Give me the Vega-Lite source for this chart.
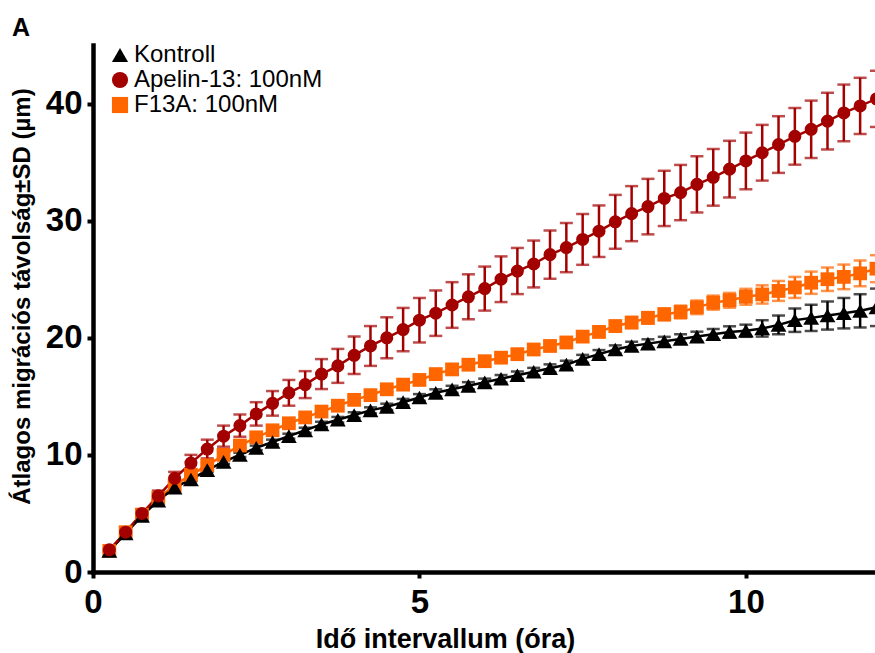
{
  "$schema": "https://vega.github.io/schema/vega-lite/v6.json",
  "width": 781.5,
  "height": 527,
  "autosize": {"type": "none"},
  "padding": {"left": 93, "top": 45, "right": 0, "bottom": 81},
  "background": "white",
  "title": {
    "text": "A",
    "anchor": "start",
    "frame": "group",
    "dx": -81,
    "dy": 28,
    "offset": 10,
    "baseline": "alphabetic",
    "font": "Liberation Sans",
    "fontSize": 25,
    "fontWeight": "bold",
    "color": "black"
  },
  "config": {
    "view": {"stroke": null},
    "axis": {
      "grid": false,
      "domainColor": "black",
      "domainWidth": 4.5,
      "domainCap": "square",
      "tickColor": "black",
      "tickWidth": 4,
      "tickSize": 6,
      "labelFont": "Liberation Sans",
      "labelFontWeight": "bold",
      "labelFontSize": 33,
      "labelColor": "black",
      "labelOverlap": false,
      "labelFlush": false,
      "titleFont": "Liberation Sans",
      "titleFontWeight": "bold",
      "titleColor": "black"
    },
    "legend": {
      "orient": "none",
      "legendX": 15,
      "legendY": -2,
      "padding": 0,
      "labelFont": "Liberation Sans",
      "labelFontSize": 24,
      "labelColor": "black",
      "labelLimit": 400,
      "labelOffset": 2,
      "symbolSize": 260,
      "symbolOpacity": 1,
      "symbolStrokeWidth": 0,
      "rowPadding": 1
    }
  },
  "datasets": {
    "series": [
      {"t": 0.25, "g": "F13A: 100nM", "m": 1.8, "sd": 0.1},
      {"t": 0.5, "g": "F13A: 100nM", "m": 3.4, "sd": 0.11},
      {"t": 0.75, "g": "F13A: 100nM", "m": 4.9, "sd": 0.12},
      {"t": 1.0, "g": "F13A: 100nM", "m": 6.3, "sd": 0.13},
      {"t": 1.25, "g": "F13A: 100nM", "m": 7.4, "sd": 0.14},
      {"t": 1.5, "g": "F13A: 100nM", "m": 8.3, "sd": 0.15},
      {"t": 1.75, "g": "F13A: 100nM", "m": 9.1, "sd": 0.17},
      {"t": 2.0, "g": "F13A: 100nM", "m": 10.0, "sd": 0.18},
      {"t": 2.25, "g": "F13A: 100nM", "m": 10.8, "sd": 0.19},
      {"t": 2.5, "g": "F13A: 100nM", "m": 11.5, "sd": 0.2},
      {"t": 2.75, "g": "F13A: 100nM", "m": 12.1, "sd": 0.21},
      {"t": 3.0, "g": "F13A: 100nM", "m": 12.7, "sd": 0.22},
      {"t": 3.25, "g": "F13A: 100nM", "m": 13.2, "sd": 0.23},
      {"t": 3.5, "g": "F13A: 100nM", "m": 13.7, "sd": 0.24},
      {"t": 3.75, "g": "F13A: 100nM", "m": 14.2, "sd": 0.25},
      {"t": 4.0, "g": "F13A: 100nM", "m": 14.7, "sd": 0.26},
      {"t": 4.25, "g": "F13A: 100nM", "m": 15.1, "sd": 0.27},
      {"t": 4.5, "g": "F13A: 100nM", "m": 15.6, "sd": 0.28},
      {"t": 4.75, "g": "F13A: 100nM", "m": 16.0, "sd": 0.29},
      {"t": 5.0, "g": "F13A: 100nM", "m": 16.4, "sd": 0.3},
      {"t": 5.25, "g": "F13A: 100nM", "m": 16.9, "sd": 0.31},
      {"t": 5.5, "g": "F13A: 100nM", "m": 17.3, "sd": 0.32},
      {"t": 5.75, "g": "F13A: 100nM", "m": 17.7, "sd": 0.33},
      {"t": 6.0, "g": "F13A: 100nM", "m": 18.0, "sd": 0.34},
      {"t": 6.25, "g": "F13A: 100nM", "m": 18.3, "sd": 0.35},
      {"t": 6.5, "g": "F13A: 100nM", "m": 18.6, "sd": 0.36},
      {"t": 6.75, "g": "F13A: 100nM", "m": 19.0, "sd": 0.37},
      {"t": 7.0, "g": "F13A: 100nM", "m": 19.3, "sd": 0.38},
      {"t": 7.25, "g": "F13A: 100nM", "m": 19.6, "sd": 0.4},
      {"t": 7.5, "g": "F13A: 100nM", "m": 20.1, "sd": 0.41},
      {"t": 7.75, "g": "F13A: 100nM", "m": 20.5, "sd": 0.42},
      {"t": 8.0, "g": "F13A: 100nM", "m": 21.0, "sd": 0.44},
      {"t": 8.25, "g": "F13A: 100nM", "m": 21.3, "sd": 0.47},
      {"t": 8.5, "g": "F13A: 100nM", "m": 21.7, "sd": 0.5},
      {"t": 8.75, "g": "F13A: 100nM", "m": 22.0, "sd": 0.52},
      {"t": 9.0, "g": "F13A: 100nM", "m": 22.2, "sd": 0.55},
      {"t": 9.25, "g": "F13A: 100nM", "m": 22.6, "sd": 0.58},
      {"t": 9.5, "g": "F13A: 100nM", "m": 23.0, "sd": 0.6},
      {"t": 9.75, "g": "F13A: 100nM", "m": 23.2, "sd": 0.63},
      {"t": 10.0, "g": "F13A: 100nM", "m": 23.5, "sd": 0.68},
      {"t": 10.25, "g": "F13A: 100nM", "m": 23.7, "sd": 0.78},
      {"t": 10.5, "g": "F13A: 100nM", "m": 24.0, "sd": 0.85},
      {"t": 10.75, "g": "F13A: 100nM", "m": 24.3, "sd": 0.9},
      {"t": 11.0, "g": "F13A: 100nM", "m": 24.7, "sd": 0.95},
      {"t": 11.25, "g": "F13A: 100nM", "m": 25.0, "sd": 1.0},
      {"t": 11.5, "g": "F13A: 100nM", "m": 25.2, "sd": 1.05},
      {"t": 11.75, "g": "F13A: 100nM", "m": 25.5, "sd": 1.1},
      {"t": 12.0, "g": "F13A: 100nM", "m": 25.9, "sd": 1.15},

      {"t": 0.25, "g": "Kontroll", "m": 1.8, "sd": 0.1},
      {"t": 0.5, "g": "Kontroll", "m": 3.3, "sd": 0.11},
      {"t": 0.75, "g": "Kontroll", "m": 4.8, "sd": 0.12},
      {"t": 1.0, "g": "Kontroll", "m": 6.1, "sd": 0.13},
      {"t": 1.25, "g": "Kontroll", "m": 7.2, "sd": 0.14},
      {"t": 1.5, "g": "Kontroll", "m": 7.9, "sd": 0.15},
      {"t": 1.75, "g": "Kontroll", "m": 8.7, "sd": 0.16},
      {"t": 2.0, "g": "Kontroll", "m": 9.4, "sd": 0.17},
      {"t": 2.25, "g": "Kontroll", "m": 10.0, "sd": 0.18},
      {"t": 2.5, "g": "Kontroll", "m": 10.6, "sd": 0.19},
      {"t": 2.75, "g": "Kontroll", "m": 11.1, "sd": 0.2},
      {"t": 3.0, "g": "Kontroll", "m": 11.6, "sd": 0.21},
      {"t": 3.25, "g": "Kontroll", "m": 12.1, "sd": 0.22},
      {"t": 3.5, "g": "Kontroll", "m": 12.6, "sd": 0.23},
      {"t": 3.75, "g": "Kontroll", "m": 13.0, "sd": 0.24},
      {"t": 4.0, "g": "Kontroll", "m": 13.4, "sd": 0.25},
      {"t": 4.25, "g": "Kontroll", "m": 13.8, "sd": 0.26},
      {"t": 4.5, "g": "Kontroll", "m": 14.1, "sd": 0.27},
      {"t": 4.75, "g": "Kontroll", "m": 14.5, "sd": 0.28},
      {"t": 5.0, "g": "Kontroll", "m": 14.9, "sd": 0.29},
      {"t": 5.25, "g": "Kontroll", "m": 15.3, "sd": 0.3},
      {"t": 5.5, "g": "Kontroll", "m": 15.6, "sd": 0.3},
      {"t": 5.75, "g": "Kontroll", "m": 15.9, "sd": 0.31},
      {"t": 6.0, "g": "Kontroll", "m": 16.2, "sd": 0.31},
      {"t": 6.25, "g": "Kontroll", "m": 16.5, "sd": 0.32},
      {"t": 6.5, "g": "Kontroll", "m": 16.8, "sd": 0.32},
      {"t": 6.75, "g": "Kontroll", "m": 17.1, "sd": 0.33},
      {"t": 7.0, "g": "Kontroll", "m": 17.4, "sd": 0.33},
      {"t": 7.25, "g": "Kontroll", "m": 17.7, "sd": 0.34},
      {"t": 7.5, "g": "Kontroll", "m": 18.2, "sd": 0.34},
      {"t": 7.75, "g": "Kontroll", "m": 18.6, "sd": 0.35},
      {"t": 8.0, "g": "Kontroll", "m": 19.0, "sd": 0.35},
      {"t": 8.25, "g": "Kontroll", "m": 19.3, "sd": 0.36},
      {"t": 8.5, "g": "Kontroll", "m": 19.5, "sd": 0.37},
      {"t": 8.75, "g": "Kontroll", "m": 19.7, "sd": 0.38},
      {"t": 9.0, "g": "Kontroll", "m": 19.9, "sd": 0.4},
      {"t": 9.25, "g": "Kontroll", "m": 20.1, "sd": 0.42},
      {"t": 9.5, "g": "Kontroll", "m": 20.3, "sd": 0.45},
      {"t": 9.75, "g": "Kontroll", "m": 20.5, "sd": 0.48},
      {"t": 10.0, "g": "Kontroll", "m": 20.6, "sd": 0.52},
      {"t": 10.25, "g": "Kontroll", "m": 20.8, "sd": 0.7},
      {"t": 10.5, "g": "Kontroll", "m": 21.1, "sd": 0.8},
      {"t": 10.75, "g": "Kontroll", "m": 21.5, "sd": 1.0},
      {"t": 11.0, "g": "Kontroll", "m": 21.7, "sd": 1.12},
      {"t": 11.25, "g": "Kontroll", "m": 21.9, "sd": 1.2},
      {"t": 11.5, "g": "Kontroll", "m": 22.1, "sd": 1.3},
      {"t": 11.75, "g": "Kontroll", "m": 22.3, "sd": 1.42},
      {"t": 12.0, "g": "Kontroll", "m": 22.6, "sd": 1.6},

      {"t": 0.25, "g": "Apelin-13: 100nM", "m": 1.9, "sd": 0.15},
      {"t": 0.5, "g": "Apelin-13: 100nM", "m": 3.4, "sd": 0.25},
      {"t": 0.75, "g": "Apelin-13: 100nM", "m": 5.0, "sd": 0.35},
      {"t": 1.0, "g": "Apelin-13: 100nM", "m": 6.5, "sd": 0.45},
      {"t": 1.25, "g": "Apelin-13: 100nM", "m": 8.0, "sd": 0.55},
      {"t": 1.5, "g": "Apelin-13: 100nM", "m": 9.3, "sd": 0.7},
      {"t": 1.75, "g": "Apelin-13: 100nM", "m": 10.5, "sd": 0.8},
      {"t": 2.0, "g": "Apelin-13: 100nM", "m": 11.6, "sd": 0.9},
      {"t": 2.25, "g": "Apelin-13: 100nM", "m": 12.5, "sd": 0.95},
      {"t": 2.5, "g": "Apelin-13: 100nM", "m": 13.5, "sd": 1.0},
      {"t": 2.75, "g": "Apelin-13: 100nM", "m": 14.4, "sd": 1.05},
      {"t": 3.0, "g": "Apelin-13: 100nM", "m": 15.3, "sd": 1.1},
      {"t": 3.25, "g": "Apelin-13: 100nM", "m": 16.0, "sd": 1.15},
      {"t": 3.5, "g": "Apelin-13: 100nM", "m": 16.9, "sd": 1.28},
      {"t": 3.75, "g": "Apelin-13: 100nM", "m": 17.6, "sd": 1.45},
      {"t": 4.0, "g": "Apelin-13: 100nM", "m": 18.5, "sd": 1.6},
      {"t": 4.25, "g": "Apelin-13: 100nM", "m": 19.3, "sd": 1.7},
      {"t": 4.5, "g": "Apelin-13: 100nM", "m": 20.0, "sd": 1.75},
      {"t": 4.75, "g": "Apelin-13: 100nM", "m": 20.7, "sd": 1.85},
      {"t": 5.0, "g": "Apelin-13: 100nM", "m": 21.5, "sd": 1.9},
      {"t": 5.25, "g": "Apelin-13: 100nM", "m": 22.1, "sd": 1.94},
      {"t": 5.5, "g": "Apelin-13: 100nM", "m": 22.8, "sd": 1.95},
      {"t": 5.75, "g": "Apelin-13: 100nM", "m": 23.5, "sd": 1.92},
      {"t": 6.0, "g": "Apelin-13: 100nM", "m": 24.2, "sd": 1.88},
      {"t": 6.25, "g": "Apelin-13: 100nM", "m": 25.0, "sd": 1.95},
      {"t": 6.5, "g": "Apelin-13: 100nM", "m": 25.7, "sd": 1.97},
      {"t": 6.75, "g": "Apelin-13: 100nM", "m": 26.3, "sd": 2.0},
      {"t": 7.0, "g": "Apelin-13: 100nM", "m": 27.1, "sd": 2.06},
      {"t": 7.25, "g": "Apelin-13: 100nM", "m": 27.7, "sd": 2.1},
      {"t": 7.5, "g": "Apelin-13: 100nM", "m": 28.4, "sd": 2.17},
      {"t": 7.75, "g": "Apelin-13: 100nM", "m": 29.1, "sd": 2.2},
      {"t": 8.0, "g": "Apelin-13: 100nM", "m": 29.9, "sd": 2.3},
      {"t": 8.25, "g": "Apelin-13: 100nM", "m": 30.6, "sd": 2.35},
      {"t": 8.5, "g": "Apelin-13: 100nM", "m": 31.2, "sd": 2.37},
      {"t": 8.75, "g": "Apelin-13: 100nM", "m": 31.9, "sd": 2.36},
      {"t": 9.0, "g": "Apelin-13: 100nM", "m": 32.4, "sd": 2.36},
      {"t": 9.25, "g": "Apelin-13: 100nM", "m": 33.1, "sd": 2.4},
      {"t": 9.5, "g": "Apelin-13: 100nM", "m": 33.7, "sd": 2.42},
      {"t": 9.75, "g": "Apelin-13: 100nM", "m": 34.4, "sd": 2.42},
      {"t": 10.0, "g": "Apelin-13: 100nM", "m": 35.1, "sd": 2.42},
      {"t": 10.25, "g": "Apelin-13: 100nM", "m": 35.8, "sd": 2.38},
      {"t": 10.5, "g": "Apelin-13: 100nM", "m": 36.5, "sd": 2.42},
      {"t": 10.75, "g": "Apelin-13: 100nM", "m": 37.2, "sd": 2.42},
      {"t": 11.0, "g": "Apelin-13: 100nM", "m": 37.8, "sd": 2.45},
      {"t": 11.25, "g": "Apelin-13: 100nM", "m": 38.5, "sd": 2.42},
      {"t": 11.5, "g": "Apelin-13: 100nM", "m": 39.2, "sd": 2.42},
      {"t": 11.75, "g": "Apelin-13: 100nM", "m": 39.8, "sd": 2.4},
      {"t": 12.0, "g": "Apelin-13: 100nM", "m": 40.4, "sd": 2.4}
    ]
  },
  "data": {"name": "series"},
  "encoding": {
    "x": {
      "field": "t",
      "type": "quantitative",
      "scale": {"domain": [0, 11.97], "nice": false, "zero": true},
      "axis": {
        "values": [0, 5, 10],
        "labelPadding": 8,
        "title": "Idő intervallum (óra)",
        "titleFontSize": 27,
        "titleX": 352,
        "titleY": 75,
        "titleAlign": "center",
        "titleBaseline": "alphabetic"
      }
    },
    "y": {
      "field": "m",
      "type": "quantitative",
      "scale": {"domain": [0, 45], "nice": false},
      "axis": {
        "values": [0, 10, 20, 30, 40],
        "labelPadding": 5,
        "title": "Átlagos migrációs távolság±SD (µm)",
        "titleFontSize": 24,
        "titleAngle": 270,
        "titleX": -64,
        "titleY": 251,
        "titleAlign": "center",
        "titleBaseline": "alphabetic"
      }
    },
    "color": {
      "field": "g",
      "type": "nominal",
      "title": null,
      "scale": {
        "domain": ["Kontroll", "Apelin-13: 100nM", "F13A: 100nM"],
        "range": ["#000000", "#A30000", "#FF6600"]
      }
    },
    "shape": {
      "field": "g",
      "type": "nominal",
      "title": null,
      "scale": {
        "domain": ["Kontroll", "Apelin-13: 100nM", "F13A: 100nM"],
        "range": ["triangle-up", "circle", "square"]
      }
    }
  },
  "layer": [
    {
      "mark": {"type": "errorbar", "ticks": true, "size": 13, "thickness": 2.5},
      "encoding": {
        "yError": {"field": "sd"},
        "shape": null
      }
    },
    {
      "mark": {"type": "line", "strokeWidth": 2.5},
      "encoding": {"shape": null}
    },
    {
      "transform": [{"filter": "datum.g === 'F13A: 100nM'"}],
      "mark": {"type": "point", "filled": true, "opacity": 1, "size": 190}
    },
    {
      "transform": [{"filter": "datum.g === 'Kontroll'"}],
      "mark": {"type": "point", "filled": true, "opacity": 1, "size": 250}
    },
    {
      "transform": [{"filter": "datum.g === 'Apelin-13: 100nM'"}],
      "mark": {"type": "point", "filled": true, "opacity": 1, "size": 170}
    }
  ]
}
